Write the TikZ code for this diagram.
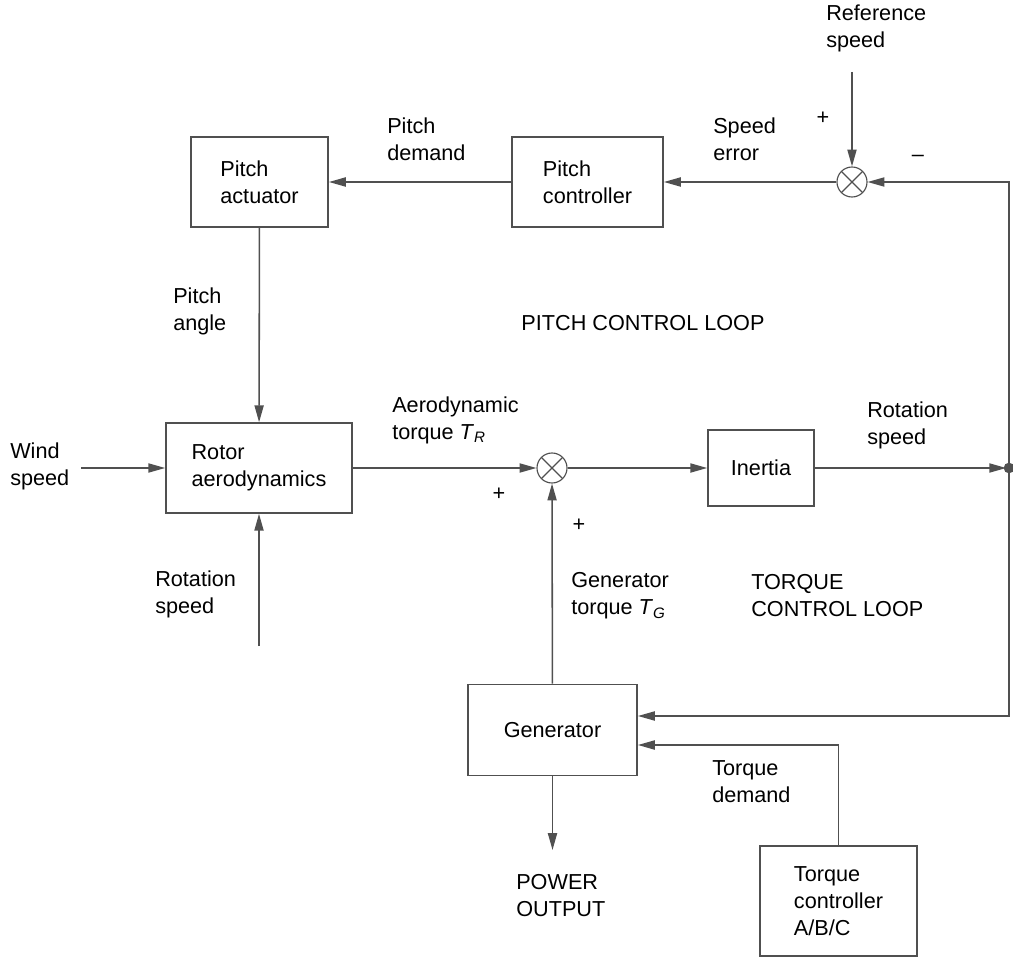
\documentclass[tikz,border=0pt]{standalone}
\usepackage{fontspec}
\setmainfont{Liberation Sans}
\usetikzlibrary{arrows.meta,positioning}
\definecolor{linegray}{RGB}{80,80,80}
\tikzset{
  box/.style={rectangle, draw=linegray, line width=1.1pt, align=left, inner sep=0pt},
  sumnode/.style={circle, draw=linegray, line width=0.8pt, minimum size=0.75cm, inner sep=0pt,
    path picture={\draw[linegray, line width=0.8pt]
      (path picture bounding box.north west) -- (path picture bounding box.south east)
      (path picture bounding box.north east) -- (path picture bounding box.south west);}},
  lbl/.style={inner sep=0pt, align=left, anchor=west},
  sign/.style={inner sep=0pt},
  arrow/.style={-{Triangle[length=12pt,width=6.5pt]}, draw=linegray, line width=1.1pt},
}

\begin{document}
\begin{tikzpicture}[x=0.025cm, y=-0.025cm, font=\fontsize{15.4}{19.2}\selectfont]
  \useasboundingbox (0,0) rectangle (1013,958);

  % Pitch loop blocks
  \node[box, minimum width=3.43cm, minimum height=2.25cm] (act) at (259.5,182) {Pitch\\actuator};
  \node[box, minimum width=3.78cm, minimum height=2.25cm] (pctrl) at (587.5,182) {Pitch\\controller};
  \node[sumnode] (sumtop) at (852,182) {};

  % Drive train blocks
  \node[box, minimum width=4.65cm, minimum height=2.25cm] (rotor) at (259,468) {Rotor\\aerodynamics};
  \node[sumnode] (summid) at (552,468) {};
  \node[box, minimum width=2.65cm, minimum height=1.9cm] (inertia) at (761,468) {Inertia};

  % Torque loop blocks
  \node[box, minimum width=4.23cm, minimum height=2.28cm] (gen) at (552.5,730) {Generator};
  \node[box, minimum width=3.93cm, minimum height=2.75cm] (tctrl) at (838.5,901) {Torque\\controller\\A/B/C};

  % Free ends
  \coordinate (refin) at (852,72);
  \coordinate (windin) at (81,468);
  \coordinate (rotin) at (259,646);
  \coordinate (jr) at (1009,468);
  \coordinate (powout) at (552.5,850);

  % Connectors
  \draw[arrow] (refin) -- (sumtop);
  \draw[arrow] (jr) |- (sumtop);
  \draw[arrow] (sumtop) -- (pctrl);
  \draw[arrow] (pctrl) -- (act);
  \draw[arrow] (act) -- (rotor);
  \draw[arrow] (windin) -- (rotor);
  \draw[arrow] (rotin) -- (rotor);
  \draw[arrow] (rotor) -- (summid);
  \draw[arrow] (summid) -- (inertia);
  \draw[arrow, shorten >=2pt] (inertia) -- (jr);
  \draw[arrow] (jr) |- ([yshift=0.35cm]gen.east);
  \draw[arrow] (tctrl) |- ([yshift=-0.375cm]gen.east);
  \draw[arrow] (gen) -- (summid);
  \draw[arrow] (gen) -- (powout);
  \fill[linegray] (jr) circle (3.8pt);

  % Labels
  \node[lbl] (refl) at (826,28) {Reference\\speed};
  \node[sign] (plusref) at (823,118) {+};
  \node[sign] (minusfb) at (918,158) {–};
  \node[lbl] (errl) at (713,139) {Speed\\error};
  \node[lbl] (pdeml) at (387,139) {Pitch\\demand};
  \node[lbl] (pangl) at (173,311) {Pitch\\angle};
  \node (pitchloop) at (643,323) {PITCH CONTROL LOOP};
  \node[lbl] (windl) at (10,466) {Wind\\speed};
  \node[lbl] (rotl) at (155,594) {Rotation\\speed};
  \node[lbl] (aerol) at (392,420) {Aerodynamic\\torque \textit{T}\textsubscript{\textit{R}}};
  \node[sign] (plusaero) at (499,494) {+};
  \node[sign] (plusgen) at (579,525) {+};
  \node[lbl] (rotspl) at (867,425) {Rotation\\speed};
  \node[lbl] (gentl) at (571,596) {Generator\\torque \textit{T}\textsubscript{\textit{G}}};
  \node[lbl] (torqueloop) at (751,596) {TORQUE\\CONTROL LOOP};
  \node[lbl] (tdeml) at (712,782) {Torque\\demand};
  \node[lbl] (powl) at (516,896) {POWER\\OUTPUT};
\end{tikzpicture}
\end{document}
